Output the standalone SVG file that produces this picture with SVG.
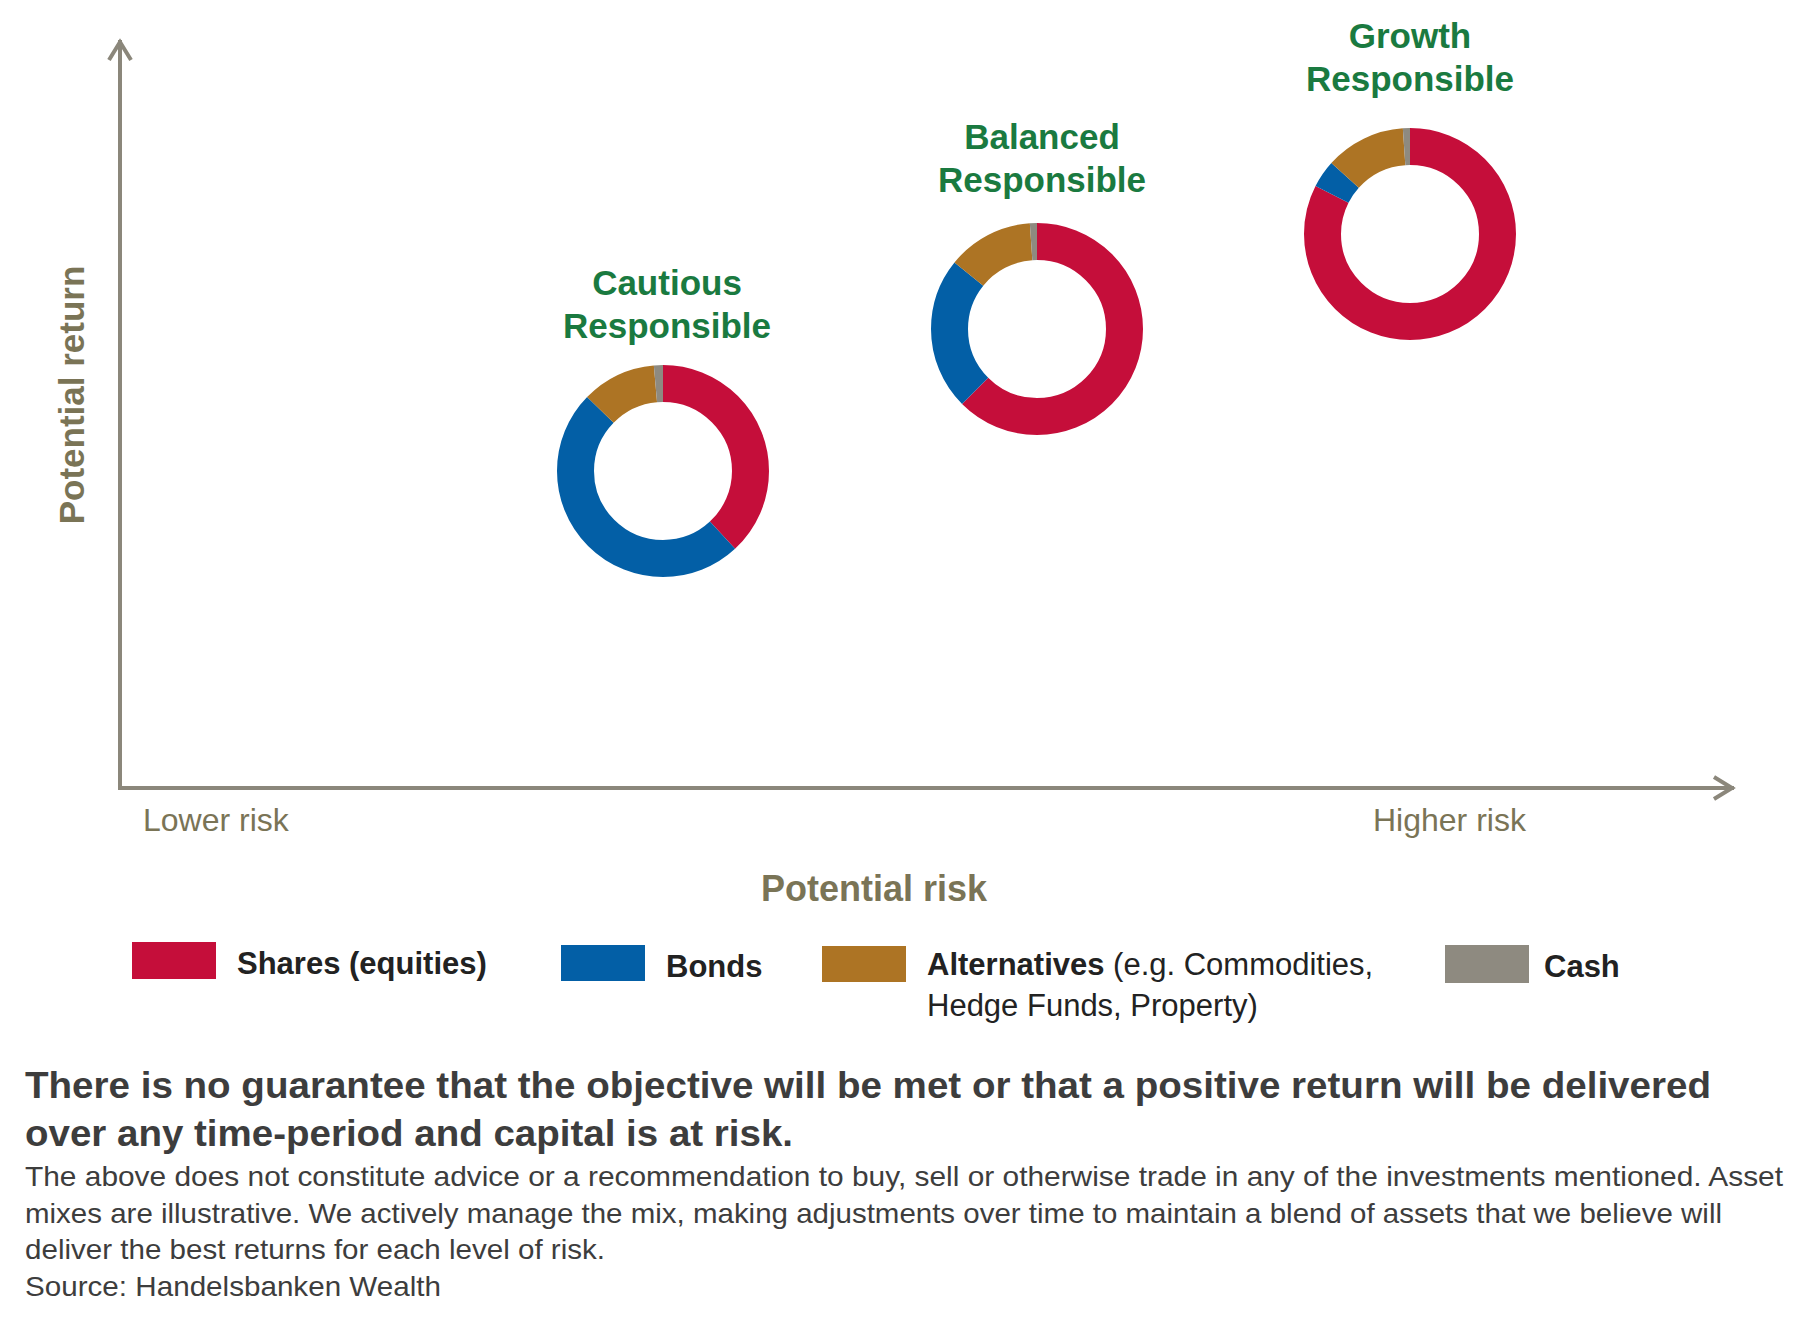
<svg xmlns="http://www.w3.org/2000/svg" width="1800" height="1335" viewBox="0 0 1800 1335">
<style>
.ax{stroke:#8b877b;stroke-width:4;fill:none}
.t{font-family:"Liberation Sans",Arial,sans-serif}
.ttl{font-family:"Liberation Sans",Arial,sans-serif;font-weight:bold;font-size:35px;fill:#1a7a40;text-anchor:middle}
.ol{fill:#7a7456}
.seg{fill:none;stroke-width:37}
.lg{font-family:"Liberation Sans",Arial,sans-serif;font-size:31px;fill:#222}
</style>
<rect width="1800" height="1335" fill="#fff"/>
<g id="axes">
<path class="ax" d="M120 40 V788 H1734"/>
<path class="ax" d="M109 60 L120 42 L131 60"/>
<path class="ax" d="M1714 777 L1732 788 L1714 799"/>
</g>
<text class="t ol" font-weight="bold" font-size="35" transform="translate(84 395) rotate(-90)" text-anchor="middle">Potential return</text>
<text class="t ol" font-size="32" x="143" y="831">Lower risk</text>
<text class="t ol" font-size="32" x="1373" y="831">Higher risk</text>
<text class="t ol" font-weight="bold" font-size="36" x="874" y="901" text-anchor="middle">Potential risk</text>
<g id="cautious">
<text class="ttl" x="667" y="295">Cautious</text><text class="ttl" x="667" y="338">Responsible</text>
<g transform="translate(663 471) rotate(-90)">
<circle class="seg" r="87.5" pathLength="100" stroke="#c50e3a" stroke-dasharray="38.1 100"/>
<circle class="seg" r="87.5" pathLength="100" stroke="#035fa6" stroke-dasharray="0 38.1 49.2 100"/>
<circle class="seg" r="87.5" pathLength="100" stroke="#ad7424" stroke-dasharray="0 87.3 11.3 100"/>
<circle class="seg" r="87.5" pathLength="100" stroke="#8e8a80" stroke-dasharray="0 98.6 1.4 100"/>
</g></g>
<g id="balanced">
<text class="ttl" x="1042" y="149">Balanced</text><text class="ttl" x="1042" y="192">Responsible</text>
<g transform="translate(1037 329) rotate(-90)">
<circle class="seg" r="87.5" pathLength="100" stroke="#c50e3a" stroke-dasharray="62.5 100"/>
<circle class="seg" r="87.5" pathLength="100" stroke="#035fa6" stroke-dasharray="0 62.5 23.3 100"/>
<circle class="seg" r="87.5" pathLength="100" stroke="#ad7424" stroke-dasharray="0 85.8 13.1 100"/>
<circle class="seg" r="87.5" pathLength="100" stroke="#8e8a80" stroke-dasharray="0 98.9 1.1 100"/>
</g></g>
<g id="growth">
<text class="ttl" x="1410" y="48">Growth</text><text class="ttl" x="1410" y="91">Responsible</text>
<g transform="translate(1410 234) rotate(-90)">
<circle class="seg" r="87.5" pathLength="100" stroke="#c50e3a" stroke-dasharray="82.5 100"/>
<circle class="seg" r="87.5" pathLength="100" stroke="#035fa6" stroke-dasharray="0 82.5 4.2 100"/>
<circle class="seg" r="87.5" pathLength="100" stroke="#ad7424" stroke-dasharray="0 86.7 12.2 100"/>
<circle class="seg" r="87.5" pathLength="100" stroke="#8e8a80" stroke-dasharray="0 98.9 1.1 100"/>
</g></g>
<g id="legend">
<rect x="132" y="942" width="84" height="37" fill="#c50e3a"/>
<text class="lg" x="237" y="974" font-weight="bold">Shares (equities)</text>
<rect x="561" y="945" width="84" height="36" fill="#035fa6"/>
<text class="lg" x="666" y="977" font-weight="bold">Bonds</text>
<rect x="822" y="946" width="84" height="36" fill="#ad7424"/>
<text class="lg" x="927" y="975"><tspan font-weight="bold">Alternatives</tspan> (e.g. Commodities,</text>
<text class="lg" x="927" y="1016">Hedge Funds, Property)</text>
<rect x="1445" y="945" width="84" height="38" fill="#8e8a80"/>
<text class="lg" x="1544" y="977" font-weight="bold">Cash</text>
</g>
<g id="disclaimer" class="t" fill="#3d3d3d">
<text x="25" y="1098" font-weight="bold" font-size="37" textLength="1686" lengthAdjust="spacingAndGlyphs">There is no guarantee that the objective will be met or that a positive return will be delivered</text>
<text x="25" y="1146" font-weight="bold" font-size="37" textLength="768" lengthAdjust="spacingAndGlyphs">over any time-period and capital is at risk.</text>
<text x="25" y="1186" font-size="28" textLength="1758" lengthAdjust="spacingAndGlyphs">The above does not constitute advice or a recommendation to buy, sell or otherwise trade in any of the investments mentioned. Asset</text>
<text x="25" y="1223" font-size="28" textLength="1697" lengthAdjust="spacingAndGlyphs">mixes are illustrative. We actively manage the mix, making adjustments over time to maintain a blend of assets that we believe will</text>
<text x="25" y="1259" font-size="28" textLength="580" lengthAdjust="spacingAndGlyphs">deliver the best returns for each level of risk.</text>
<text x="25" y="1296" font-size="28" textLength="416" lengthAdjust="spacingAndGlyphs">Source: Handelsbanken Wealth</text>
</g>
</svg>
